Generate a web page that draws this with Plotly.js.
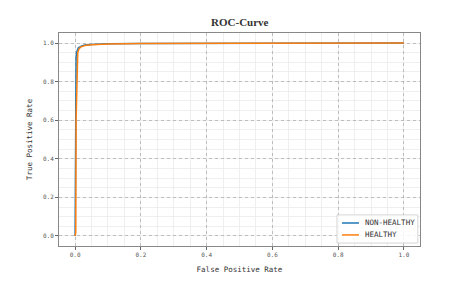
<!DOCTYPE html>
<html><head><meta charset="utf-8">
<script src="https://cdn.plot.ly/plotly-3.0.1.min.js"></script>
<style>html,body{margin:0;padding:0;background:#fff;}#chart{width:455px;height:286px;}</style>
</head><body><div id="chart"></div>
<script>
var seriesNames = ["NON-HEALTHY", "HEALTHY"];
var seriesColors = ["#1f77b4", "#ff7f0e"];
var fprNonHealthy = [0, 0.001, 0.002, 0.003, 0.006, 0.01, 0.02, 0.03, 0.05, 0.1, 0.2, 0.4, 0.7, 1.0];
var tprNonHealthy = [0, 0.3, 0.8, 0.93, 0.96, 0.975, 0.985, 0.99, 0.993, 0.996, 0.998, 0.999, 1.0, 1.0];
var fprHealthy = [0, 0.002, 0.003, 0.006, 0.008, 0.012, 0.018, 0.03, 0.05, 0.1, 0.2, 0.5, 1.0];
var tprHealthy = [0, 0.02, 0.6, 0.9, 0.95, 0.97, 0.98, 0.987, 0.991, 0.995, 0.997, 0.999, 1.0];
var tickVals = [0, 0.2, 0.4, 0.6, 0.8, 1.0];
var tickText = ["0.0", "0.2", "0.4", "0.6", "0.8", "1.0"];

var mono = "DejaVu Sans Mono, monospace";
var traces = [
  {x: fprNonHealthy, y: tprNonHealthy, name: seriesNames[0], mode: "lines", line: {color: seriesColors[0], width: 1.5}, showlegend: false},
  {x: fprHealthy, y: tprHealthy, name: seriesNames[1], mode: "lines", line: {color: seriesColors[1], width: 1.5}, showlegend: false}
];
function axis(titleText, rng) {
  return {
    range: rng, tickvals: tickVals, ticktext: tickText,
    ticks: "outside", ticklen: 3, tickcolor: "#666",
    tickfont: {family: mono, size: 6, color: "#555"},
    showline: true, linecolor: "#888", linewidth: 1, mirror: true,
    showgrid: true, gridcolor: "#b0b0b0", griddash: "dot", gridwidth: 0.8,
    zeroline: false,
    minor: {dtick: 0.05, tick0: 0, showgrid: true, gridcolor: "#ebebeb", griddash: "solid", gridwidth: 0.8, ticks: ""},
    title: {text: titleText, font: {family: mono, size: 7.5, color: "#333"}, standoff: 9}
  };
}
// custom matplotlib-like legend (paper coordinates)
var lgX0 = 0.770, lgX1 = 0.994, lgY0 = 0.014, lgY1 = 0.146;
var rowY = [0.108, 0.052];
var shapes = [{type: "rect", xref: "paper", yref: "paper", x0: lgX0, x1: lgX1, y0: lgY0, y1: lgY1,
  fillcolor: "rgba(255,255,255,0.85)", line: {color: "#d5d5d5", width: 1}, layer: "above"}];
var annotations = [];
seriesNames.forEach(function (n, i) {
  shapes.push({type: "line", xref: "paper", yref: "paper", x0: 0.784, x1: 0.831, y0: rowY[i], y1: rowY[i],
    line: {color: seriesColors[i], width: 1.5}, layer: "above"});
  annotations.push({xref: "paper", yref: "paper", x: 0.842, y: rowY[i], xanchor: "left", yanchor: "middle",
    text: n, showarrow: false, font: {family: mono, size: 7.5, color: "#333"}});
});
var layout = {
  width: 455, height: 286,
  margin: {l: 59, r: 35, t: 33, b: 40},
  paper_bgcolor: "#fff", plot_bgcolor: "#fff",
  title: {text: "<b>ROC-Curve</b>", font: {family: "Liberation Serif, serif", size: 11, color: "#333"}, x: 0.527, xanchor: "center", y: 0.923, yanchor: "middle"},
  xaxis: axis("False Positive Rate", [-0.049, 1.049]),
  yaxis: axis("True Positive Rate", [-0.052, 1.052]),
  showlegend: false,
  shapes: shapes,
  annotations: annotations
};
Plotly.newPlot("chart", traces, layout, {displayModeBar: false, staticPlot: true});
</script></body></html>
